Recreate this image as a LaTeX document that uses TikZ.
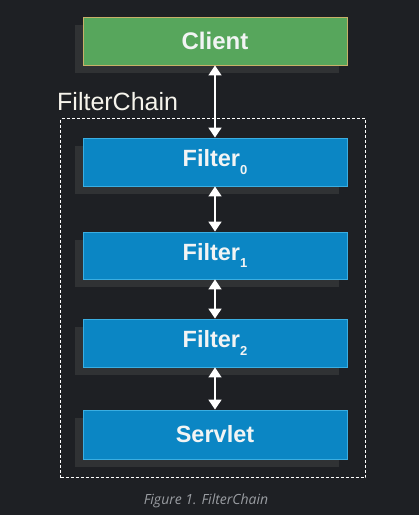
\documentclass[tikz,border=0pt]{standalone}
\usepackage{fontspec}
\setmainfont{Liberation Sans}
\newfontfamily\capfont{Open Sans}
\usetikzlibrary{arrows.meta}
\definecolor{bgcol}{HTML}{1E2024}
\definecolor{shadowcol}{HTML}{303234}
\definecolor{clientfill}{HTML}{57A65C}
\definecolor{clientdraw}{HTML}{C8B068}
\definecolor{filterfill}{HTML}{0B86C4}
\definecolor{filterdraw}{HTML}{3AAEE2}
\definecolor{txtcol}{HTML}{F2F4F4}
\definecolor{labcol}{HTML}{F6F4EC}
\definecolor{capcol}{HTML}{9A9DA2}
\tikzset{
  box/.style={minimum width=264pt, minimum height=48pt, inner sep=0pt, line width=0.8pt,
    font=\fontsize{23.5}{25}\selectfont\bfseries, text=txtcol},
  clientbox/.style={box, fill=clientfill, draw=clientdraw},
  filterbox/.style={box, fill=filterfill, draw=filterdraw},
  link/.style={draw=white, line width=1.5pt, {Triangle[width=13pt,length=10pt]}-{Triangle[width=13pt,length=10pt]}},
}
\newcommand{\subidx}[1]{\raisebox{-0.32em}{\fontsize{13}{13}\selectfont #1}}
\begin{document}
\begin{tikzpicture}[x=1pt,y=-1pt]
\fill[bgcol] (0,0) rectangle (419,515);
\useasboundingbox (0,0) rectangle (419,515);
% shadows
\foreach \t/\b in {17/65,138/186,232/279,319/367,410/459}{
  \fill[shadowcol] (75,\t+8) rectangle (339,\b+8);
}
% dashed chain frame
\node[draw=white, dashed, dash pattern=on 3pt off 2pt, line width=1pt, minimum width=305pt, minimum height=359pt, inner sep=0pt] (chain) at (213,298) {};
\node[anchor=base west, font=\fontsize{25}{27}\selectfont, text=labcol, inner sep=0pt] (chainlabel) at (57,110) {FilterChain};
% boxes
\node[clientbox, font=\fontsize{24}{26}\selectfont\bfseries] (client) at (215,41) {Client};
\node[filterbox] (f0) at (215,162) {Filter\subidx{0}};
\node[filterbox, minimum height=47pt] (f1) at (215,255.5) {Filter\subidx{1}};
\node[filterbox] (f2) at (215,343) {Filter\subidx{2}};
\node[filterbox, minimum height=49pt] (servlet) at (215,434.5) {Servlet};
% links
\draw[link] (client.south) -- (f0.north);
\draw[link] (f0.south) -- (f1.north);
\draw[link] (f1.south) -- (f2.north);
\draw[link] (f2.south) -- (servlet.north);
% caption
\node[anchor=base, font=\capfont\itshape\fontsize{14}{16}\selectfont, text=capcol, inner sep=0pt] (caption) at (206,504) {Figure 1. FilterChain};
\end{tikzpicture}
\end{document}
